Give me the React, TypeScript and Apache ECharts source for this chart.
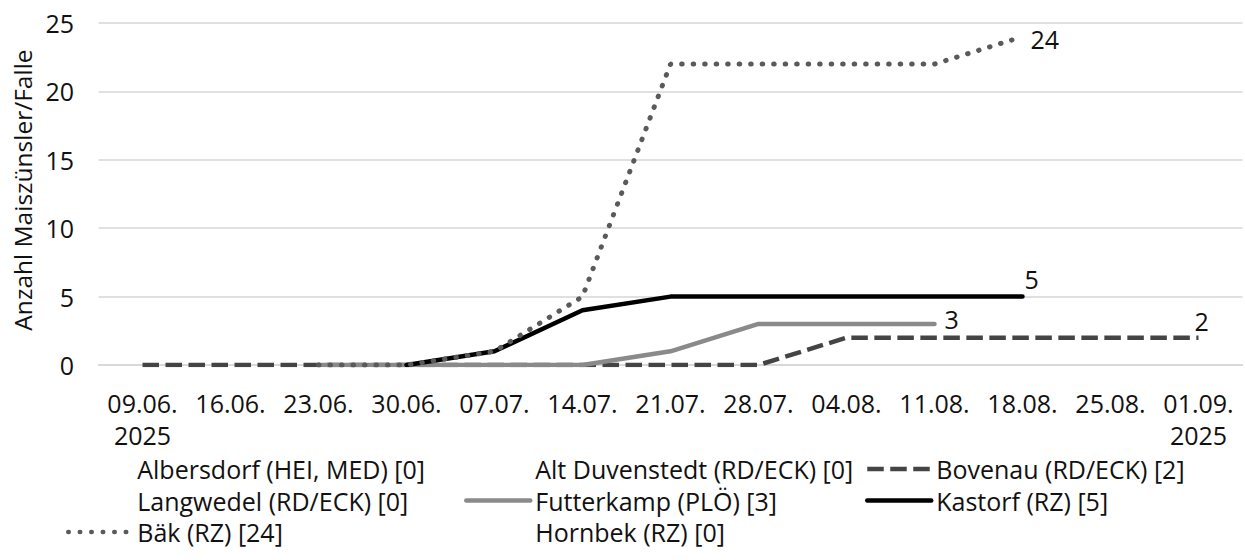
import React, { useEffect, useRef } from "react";
import * as echarts from "echarts";

const dates = ["09.06.", "16.06.", "23.06.", "30.06.", "07.07.", "14.07.", "21.07.", "28.07.", "04.08.", "11.08.", "18.08.", "25.08.", "01.09."];
const yearLabel = "2025";
const yTicks = { min: 0, max: 25, interval: 5 };
const yAxisName = "Anzahl Maiszünsler/Falle";

const nameAlbersdorf = "Albersdorf (HEI, MED) [0]";
const nameAltDuvenstedt = "Alt Duvenstedt (RD/ECK) [0]";
const nameBovenau = "Bovenau (RD/ECK) [2]";
const nameLangwedel = "Langwedel (RD/ECK) [0]";
const nameFutterkamp = "Futterkamp (PLÖ) [3]";
const nameKastorf = "Kastorf (RZ) [5]";
const nameBaek = "Bäk (RZ) [24]";
const nameHornbek = "Hornbek (RZ) [0]";

const albersdorf: (number | null)[] = [];
const altDuvenstedt: (number | null)[] = [];
const langwedel: (number | null)[] = [];
const hornbek: (number | null)[] = [];
const bovenau: (number | null)[] = [0, 0, 0, 0, 0, 0, 0, 0, 2, 2, 2, 2, 2];
const futterkamp: (number | null)[] = [null, null, 0, 0, 0, 0, 1, 3, 3, 3, null, null, null];
const kastorf: (number | null)[] = [null, null, null, 0, 1, 4, 5, 5, 5, 5, 5, null, null];
const baek: (number | null)[] = [null, null, 0, 0, 1, 5, 22, 22, 22, 22, 24, null, null];

const FONT = "'Open Sans', 'Noto Sans', sans-serif";
const FS = 25;
const TEXT = "#111";

export default function App() {
  const ref = useRef<HTMLDivElement>(null);
  useEffect(() => {
    if (!ref.current) return;
    const chart = echarts.init(ref.current, undefined, { renderer: "svg" });
    const hidden = (name: string, data: (number | null)[]) => ({
      name,
      type: "line",
      data,
      symbol: "none",
      lineStyle: { color: "rgba(0,0,0,0)", width: 0 },
      itemStyle: { color: "rgba(0,0,0,0)" },
    });
    const endLabel = (offset: number[]) => ({
      show: true,
      formatter: (p: any) => String(p.value),
      fontFamily: FONT,
      fontSize: FS,
      color: TEXT,
      offset,
    });
    const legendCommon = {
      orient: "vertical",
      top: 456,
      itemWidth: 64,
      itemHeight: 14,
      itemGap: 5.5,
      padding: 0,
      selectedMode: false,
      itemStyle: { opacity: 0 },
      lineStyle: { width: 4.5 },
      textStyle: { fontFamily: FONT, fontSize: FS, color: TEXT, lineHeight: 26 },
    };
    chart.setOption({
      animation: false,
      backgroundColor: "#fff",
      grid: { left: 98.5, right: 2.5, top: 23, bottom: 195 },
      legend: [
        { ...legendCommon, left: 66, data: [nameAlbersdorf, nameLangwedel, nameBaek] },
        { ...legendCommon, left: 464, data: [nameAltDuvenstedt, nameFutterkamp, nameHornbek] },
        { ...legendCommon, left: 865, data: [nameBovenau, nameKastorf] },
      ],
      xAxis: {
        type: "category",
        data: dates,
        boundaryGap: true,
        axisLine: { show: true, lineStyle: { color: "#d6d6d6", width: 1.5 } },
        axisTick: { show: false },
        axisLabel: {
          interval: 0,
          margin: 21.5,
          fontFamily: FONT,
          fontSize: FS,
          color: TEXT,
          lineHeight: 32,
          formatter: (v: string, i: number) =>
            i === 0 || i === dates.length - 1 ? `${v}\n${yearLabel}` : v,
        },
      },
      yAxis: {
        type: "value",
        min: yTicks.min,
        max: yTicks.max,
        interval: yTicks.interval,
        name: yAxisName,
        nameLocation: "middle",
        nameGap: 62,
        nameTextStyle: { fontFamily: FONT, fontSize: 24.5, color: TEXT, padding: [0, 0, 0, 8] },
        axisLine: { show: false },
        axisTick: { show: false },
        axisLabel: { margin: 24.5, fontFamily: FONT, fontSize: FS, color: TEXT },
        splitLine: { lineStyle: { color: "#d6d6d6", width: 1.5 } },
      },
      series: [
        hidden(nameAlbersdorf, albersdorf),
        hidden(nameAltDuvenstedt, altDuvenstedt),
        {
          name: nameBovenau,
          type: "line",
          data: bovenau,
          symbol: "none",
          lineStyle: { color: "#444", width: 4.5, type: [16.5, 6.5], cap: "butt" },
          itemStyle: { color: "#444" },
          endLabel: endLabel([-12, -17]),
        },
        hidden(nameLangwedel, langwedel),
        {
          name: nameFutterkamp,
          type: "line",
          data: futterkamp,
          symbol: "none",
          lineStyle: { color: "#8a8a8a", width: 4.5, cap: "round" },
          itemStyle: { color: "#8a8a8a" },
          endLabel: endLabel([2, -5]),
        },
        {
          name: nameKastorf,
          type: "line",
          data: kastorf,
          symbol: "none",
          lineStyle: { color: "#000", width: 4.5, cap: "round" },
          itemStyle: { color: "#000" },
          endLabel: endLabel([-6, -18]),
        },
        {
          name: nameBaek,
          type: "line",
          data: baek,
          symbol: "none",
          lineStyle: { color: "#5a5a5a", width: 5, type: [0.5, 11], cap: "round" },
          itemStyle: { color: "#5a5a5a" },
          endLabel: endLabel([0, 2]),
        },
        hidden(nameHornbek, hornbek),
      ],
    });
    return () => chart.dispose();
  }, []);
  return (
    <div
      ref={ref}
      style={{ position: "fixed", left: 0, top: 0, width: 1245, height: 560, background: "#fff" }}
    />
  );
}
